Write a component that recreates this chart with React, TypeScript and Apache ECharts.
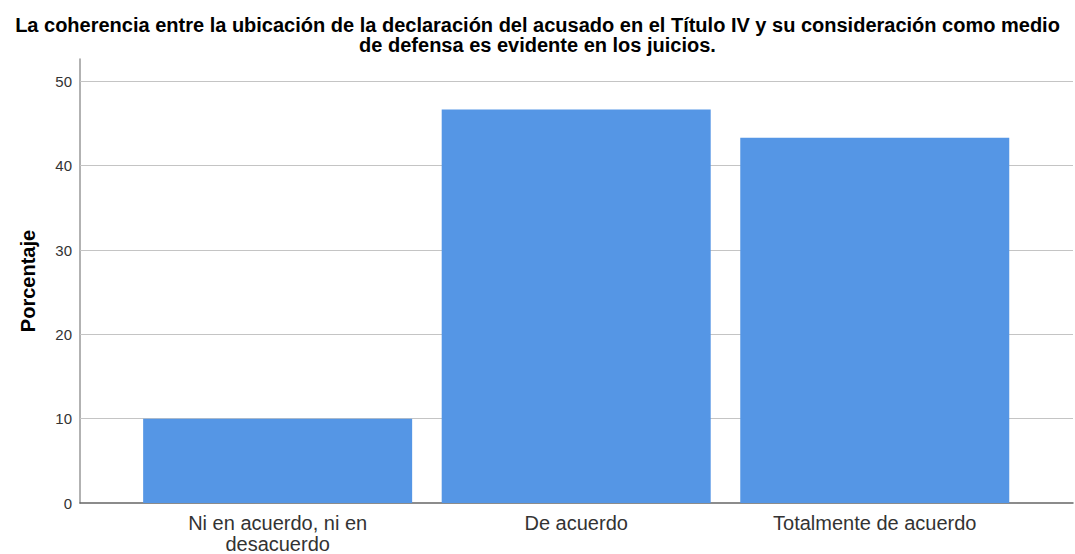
import React, { useEffect, useRef } from "react";
import * as echarts from "echarts";

const titleText =
  "La coherencia entre la ubicación de la declaración del acusado en el Título IV y su consideración como medio\nde defensa es evidente en los juicios.";
const categories = ["Ni en acuerdo, ni en\ndesacuerdo", "De acuerdo", "Totalmente de acuerdo"];
const percentages = [10.0, 46.67, 43.33];
const yTicks = [10, 20, 30, 40, 50];
const yAxisName = "Porcentaje";

export default function App() {
  const ref = useRef<HTMLDivElement>(null);
  useEffect(() => {
    if (!ref.current) return;
    const chart = echarts.init(ref.current, null, { renderer: "svg" });
    const font = "'Liberation Sans', Arial, sans-serif";
    chart.setOption({
      animation: false,
      backgroundColor: "#ffffff",
      textStyle: { fontFamily: font },
      title: {
        text: titleText,
        left: "center",
        top: 10,
        textStyle: {
          fontFamily: font,
          fontSize: 20,
          fontWeight: "bold",
          color: "#000000",
          lineHeight: 20,
        },
      },
      grid: { left: 80, right: 2, top: 59, bottom: 50, containLabel: false },
      xAxis: {
        type: "value",
        min: -0.662,
        max: 2.664,
        axisLine: { show: true, onZero: false, lineStyle: { color: "#666666", width: 1.5 } },
        axisTick: { show: false },
        splitLine: { show: false },
        axisLabel: {
          customValues: [0, 1, 2],
          formatter: (v: number) => categories[Math.round(v)] ?? "",
          fontSize: 20,
          color: "#333333",
          lineHeight: 21,
          margin: 9,
          fontFamily: font,
        },
      },
      yAxis: {
        type: "value",
        min: 0,
        max: 52.66,
        interval: 10,
        name: yAxisName,
        nameLocation: "middle",
        nameGap: 42,
        nameTextStyle: { fontSize: 20, fontWeight: "bold", color: "#000000", fontFamily: font },
        axisLine: { show: true, onZero: false, lineStyle: { color: "#999999", width: 1.5 } },
        axisTick: { show: false },
        splitLine: { show: false },
        axisLabel: {
          formatter: (v: number) => (Math.abs(v % 10) < 1e-6 ? String(v) : ""),
          fontSize: 15,
          color: "#333333",
          margin: 8,
          fontFamily: font,
        },
      },
      series: [
        {
          type: "bar",
          data: percentages.map((v, i) => [i, v]),
          barWidth: 269,
          itemStyle: { color: "#5596e5" },
          z: 3,
          markLine: {
            silent: true,
            symbol: "none",
            label: { show: false },
            lineStyle: { color: "#c4c4c4", width: 1, type: "solid" },
            data: yTicks.map((t) => ({ yAxis: t })),
            z: 1,
          },
        },
      ],
    });
    return () => chart.dispose();
  }, []);
  return (
    <div
      ref={ref}
      style={{ position: "fixed", left: 0, top: 0, width: 1075, height: 554 }}
    />
  );
}
